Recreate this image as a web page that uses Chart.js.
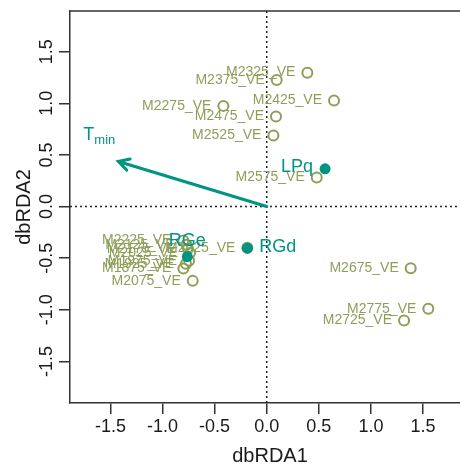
<!DOCTYPE html>
<html lang="en">
<head>
    <meta charset="UTF-8">
    <title>dbRDA biplot</title>
    <script src="https://cdn.jsdelivr.net/npm/chart.js"></script>
    <style>
        body { margin: 0; background: #fff; overflow: hidden; }
    </style>
</head>
<body>
    <!-- a few px wider than the window: chart.js keeps room for the point radius on the right -->
    <canvas id="rdaChart" width="467" height="467"></canvas>

    <script>
        // site scores
        const siteNames = ['M1875_VE', 'M1925_VE', 'M1975_VE', 'M2025_VE', 'M2075_VE', 'M2125_VE', 'M2175_VE',
            'M2225_VE', 'M2275_VE', 'M2325_VE', 'M2375_VE', 'M2425_VE', 'M2475_VE', 'M2525_VE', 'M2575_VE',
            'M2625_VE', 'M2675_VE', 'M2725_VE', 'M2775_VE'];
        const siteX = [-0.80, -0.775, -0.745, -0.736, -0.71, -0.77, -0.755, -0.80, -0.416, 0.39, 0.096, 0.646,
            0.089, 0.064, 0.48, -0.186, 1.382, 1.318, 1.551];
        const siteY = [-0.60, -0.555, -0.525, -0.45, -0.72, -0.37, -0.41, -0.33, 0.975, 1.297, 1.226, 1.026,
            0.871, 0.687, 0.281, -0.40, -0.597, -1.103, -0.99];

        // group centroids
        const groupNames = ['LPq', 'RGd', 'RGe'];
        const groupX = [0.56, -0.186, -0.762];
        const groupY = [0.365, -0.403, -0.485];
        const groupLabelSide = ['left', 'right', 'top'];

        // environmental vector
        const envX = [-1.424];
        const envY = [0.436];

        const xTicks = [-1.5, -1.0, -0.5, 0.0, 0.5, 1.0, 1.5];
        const yTicks = [-1.5, -1.0, -0.5, 0.0, 0.5, 1.0, 1.5];

        const olive = '#8c9f58';
        const teal = '#009482';
        const axisCol = '#333333';
        const font = "'Liberation Sans', Arial, sans-serif";

        const biplotPlugin = {
            id: 'biplot',
            beforeDatasetsDraw(chart) {
                const { ctx, chartArea, scales } = chart;
                const x0 = scales.x.getPixelForValue(0);
                const y0 = scales.y.getPixelForValue(0);
                ctx.save();
                ctx.strokeStyle = '#222';
                ctx.lineWidth = 1.5;
                ctx.setLineDash([2, 3]);
                ctx.beginPath();
                ctx.moveTo(x0, chartArea.top);
                ctx.lineTo(x0, chartArea.bottom);
                ctx.moveTo(chartArea.left, y0);
                ctx.lineTo(chartArea.right, y0);
                ctx.stroke();
                ctx.restore();
            },
            afterDatasetDraw(chart, args) {
                if (args.index !== 1) return;
                const { ctx, scales } = chart;
                // site labels, left of the point
                ctx.save();
                ctx.font = '14px ' + font;
                ctx.fillStyle = olive;
                ctx.textAlign = 'right';
                ctx.textBaseline = 'middle';
                siteNames.forEach((name, i) => {
                    const px = scales.x.getPixelForValue(siteX[i]);
                    const py = scales.y.getPixelForValue(siteY[i]);
                    ctx.fillText(name, px - 12, py);
                });
                ctx.restore();
            },
            afterDatasetsDraw(chart) {
                const { ctx, chartArea, scales } = chart;
                ctx.save();

                // group labels
                ctx.font = '18px ' + font;
                ctx.fillStyle = teal;
                groupNames.forEach((name, i) => {
                    const px = scales.x.getPixelForValue(groupX[i]);
                    const py = scales.y.getPixelForValue(groupY[i]);
                    const side = groupLabelSide[i];
                    if (side === 'left') {
                        ctx.textAlign = 'right'; ctx.textBaseline = 'middle';
                        ctx.fillText(name, px - 12, py - 2);
                    } else if (side === 'right') {
                        ctx.textAlign = 'left'; ctx.textBaseline = 'middle';
                        ctx.fillText(name, px + 12, py - 1);
                    } else {
                        ctx.textAlign = 'center'; ctx.textBaseline = 'alphabetic';
                        ctx.fillText(name, px, py - 11);
                    }
                });

                // arrow
                const ox = scales.x.getPixelForValue(0);
                const oy = scales.y.getPixelForValue(0);
                envX.forEach((ex, i) => {
                    const tx = scales.x.getPixelForValue(ex);
                    const ty = scales.y.getPixelForValue(envY[i]);
                    const ang = Math.atan2(ty - oy, tx - ox);
                    ctx.strokeStyle = teal;
                    ctx.lineWidth = 3;
                    ctx.lineCap = 'round';
                    ctx.beginPath();
                    ctx.moveTo(ox, oy);
                    ctx.lineTo(tx, ty);
                    const hl = 12;
                    ctx.moveTo(tx - hl * Math.cos(ang - 0.5), ty - hl * Math.sin(ang - 0.5));
                    ctx.lineTo(tx, ty);
                    ctx.lineTo(tx - hl * Math.cos(ang + 0.5), ty - hl * Math.sin(ang + 0.5));
                    ctx.stroke();

                    // T_min label
                    ctx.fillStyle = teal;
                    ctx.textAlign = 'left';
                    ctx.textBaseline = 'alphabetic';
                    ctx.font = '18px ' + font;
                    ctx.fillText('T', tx - 35, ty - 22);
                    ctx.font = '13px ' + font;
                    ctx.fillText('min', tx - 24, ty - 18);
                });

                // top border of the box
                ctx.strokeStyle = axisCol;
                ctx.lineWidth = 1.5;
                ctx.setLineDash([]);
                ctx.beginPath();
                ctx.moveTo(chartArea.left, chartArea.top);
                ctx.lineTo(chartArea.right, chartArea.top);
                ctx.stroke();

                // y tick labels (rotated, R style)
                ctx.fillStyle = '#1a1a1a';
                ctx.font = '18px ' + font;
                ctx.textAlign = 'center';
                ctx.textBaseline = 'alphabetic';
                yTicks.forEach(v => {
                    const py = scales.y.getPixelForValue(v);
                    ctx.save();
                    ctx.translate(52, py);
                    ctx.rotate(-Math.PI / 2);
                    ctx.fillText(v.toFixed(1), 0, 0);
                    ctx.restore();
                });

                // axis titles
                ctx.font = '20px ' + font;
                ctx.fillText('dbRDA1', 270, 462);
                ctx.save();
                ctx.translate(30, (chartArea.top + chartArea.bottom) / 2);
                ctx.rotate(-Math.PI / 2);
                ctx.fillText('dbRDA2', 0, 0);
                ctx.restore();

                ctx.restore();
            }
        };

        const ctx = document.getElementById('rdaChart').getContext('2d');
        const rdaChart = new Chart(ctx, {
            type: 'scatter',
            data: {
                datasets: [
                    {
                        label: 'groups',
                        data: groupX.map((x, i) => ({ x: x, y: groupY[i] })),
                        backgroundColor: teal,
                        borderWidth: 0,
                        pointRadius: 5.5,
                        pointHoverRadius: 5.5
                    },
                    {
                        label: 'sites',
                        data: siteX.map((x, i) => ({ x: x, y: siteY[i] })),
                        backgroundColor: 'rgba(0,0,0,0)',
                        borderColor: olive,
                        borderWidth: 2,
                        pointRadius: 5,
                        pointHoverRadius: 5
                    }
                ]
            },
            options: {
                responsive: false,
                animation: false,
                layout: { padding: { top: 11, right: 0, left: 0, bottom: 0 } },
                plugins: {
                    legend: { display: false },
                    tooltip: { enabled: false }
                },
                scales: {
                    x: {
                        type: 'linear',
                        min: -1.888,
                        max: 1.855,
                        afterBuildTicks: s => { s.ticks = xTicks.map(v => ({ value: v })); },
                        afterFit: s => { s.height = 64; s.paddingLeft = 0; s.paddingRight = 0; },
                        grid: { drawOnChartArea: false, drawTicks: true, tickLength: 11, color: axisCol, lineWidth: 1.5 },
                        border: { display: true, color: axisCol, width: 1.5 },
                        ticks: {
                            color: '#1a1a1a',
                            font: { family: font, size: 18 },
                            padding: 2,
                            maxRotation: 0,
                            callback: v => v.toFixed(1)
                        }
                    },
                    y: {
                        type: 'linear',
                        min: -1.903,
                        max: 1.894,
                        afterBuildTicks: s => { s.ticks = yTicks.map(v => ({ value: v })); },
                        afterFit: s => { s.width = 70; s.paddingTop = 0; s.paddingBottom = 0; },
                        grid: { drawOnChartArea: false, drawTicks: true, tickLength: 11, color: axisCol, lineWidth: 1.5 },
                        border: { display: true, color: axisCol, width: 1.5 },
                        ticks: { display: false }
                    }
                }
            },
            plugins: [biplotPlugin]
        });
    </script>
</body>
</html>
